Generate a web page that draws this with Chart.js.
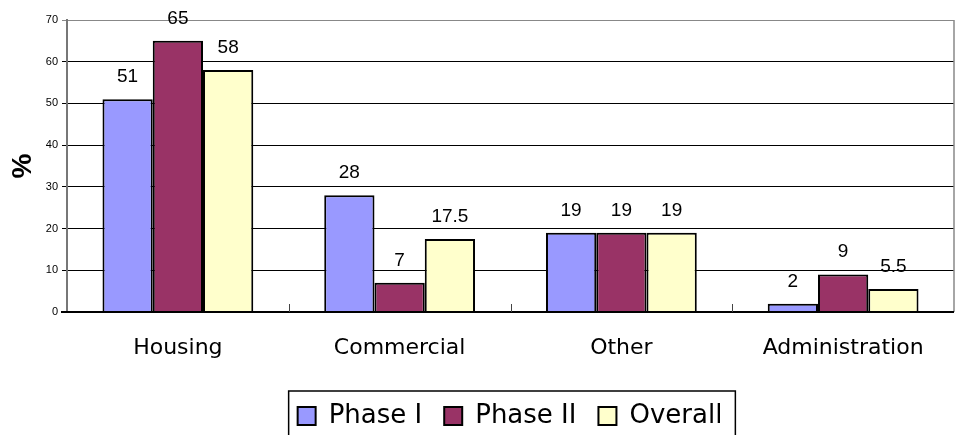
<!DOCTYPE html>
<html>
<head>
<meta charset="utf-8">
<script src="https://cdn.jsdelivr.net/npm/chart.js@4.4.1/dist/chart.umd.min.js"></script>
<style>
  body { margin: 0; background: #fff; }
  #wrap { width: 959px; height: 435px; }
</style>
</head>
<body>
<div id="wrap"><canvas id="barchart" width="959" height="435"></canvas></div>
<script>
// Data
const categories = ['Housing', 'Commercial', 'Other', 'Administration'];
const phase1 = [51, 28, 19, 2];
const phase2 = [65, 7, 19, 9];
const overall = [58, 17.5, 19, 5.5];
const seriesNames = ['Phase I', 'Phase II', 'Overall'];
const yMin = 0, yMax = 70, yStep = 10;

// legend sits a bit right of centre in the original
const legendShift = { dx: 33, dy: 4 };

// value labels above each bar
const valueLabels = {
    id: 'valueLabels',
    afterDatasetsDraw(chart) {
        const ctx = chart.ctx;
        ctx.save();
        ctx.font = '19px "Liberation Sans", Arial, sans-serif';
        ctx.fillStyle = '#000';
        ctx.textAlign = 'center';
        ctx.textBaseline = 'alphabetic';
        chart.data.datasets.forEach((ds, i) => {
            chart.getDatasetMeta(i).data.forEach((bar, j) => {
                ctx.fillText(String(ds.data[j]), bar.x, bar.y - 17);
            });
        });
        ctx.restore();
    }
};

// plot frame, inside category ticks, legend border
const frame = {
    id: 'frame',
    beforeDraw(chart) {
        const lg = chart.legend;
        lg.left += legendShift.dx;
        lg.right += legendShift.dx;
        lg.top += legendShift.dy;
        lg.bottom += legendShift.dy;
    },
    beforeDatasetsDraw(chart) {
        const {ctx, chartArea: a} = chart;
        ctx.save();
        ctx.strokeStyle = '#888';
        ctx.lineWidth = 1.5;
        ctx.beginPath();
        ctx.moveTo(a.right, a.top);
        ctx.lineTo(a.right, a.bottom);
        ctx.stroke();
        ctx.restore();
    },
    afterDraw(chart) {
        const {ctx, chartArea: a} = chart;
        const x = chart.scales.x;
        ctx.save();
        // x axis line
        ctx.strokeStyle = '#000';
        ctx.lineWidth = 2;
        ctx.beginPath();
        ctx.moveTo(a.left - 6, a.bottom);
        ctx.lineTo(a.right, a.bottom);
        ctx.stroke();
        // inside ticks between categories
        ctx.lineWidth = 1;
        ctx.strokeStyle = '#444';
        for (let i = 1; i < categories.length; i++) {
            const px = Math.round((x.getPixelForValue(i - 1) + x.getPixelForValue(i)) / 2) + 0.5;
            ctx.beginPath();
            ctx.moveTo(px, a.bottom);
            ctx.lineTo(px, a.bottom - 8);
            ctx.stroke();
        }
        // legend border (hit boxes were placed before the shift)
        const boxes = chart.legend.legendHitBoxes;
        if (boxes && boxes.length) {
            const first = boxes[0], last = boxes[boxes.length - 1];
            const l = first.left - 9 + legendShift.dx;
            const r = last.left + last.width + 13 + legendShift.dx;
            const t = first.top - 12 + legendShift.dy;
            ctx.strokeStyle = '#000';
            ctx.lineWidth = 1.5;
            ctx.strokeRect(l, t, r - l, 60);
        }
        ctx.restore();
    }
};

const ctxBar = document.getElementById('barchart');

new Chart(ctxBar, {
    type: 'bar',
    data: {
        labels: categories,
        datasets: [{
                label: seriesNames[0],
                data: phase1,
                backgroundColor: '#9999FF',
                borderColor: '#000',
                borderWidth: 2
            },
            {
                label: seriesNames[1],
                data: phase2,
                backgroundColor: '#993366',
                borderColor: '#000',
                borderWidth: 2
            },
            {
                label: seriesNames[2],
                data: overall,
                backgroundColor: '#FFFFCC',
                borderColor: '#000',
                borderWidth: 2
            }
        ]
    },
    options: {
        responsive: false,
        animation: false,
        datasets: {
            bar: { categoryPercentage: 0.68, barPercentage: 1.0 }
        },
        layout: { padding: { top: 20, right: 5, left: 0, bottom: 0 } },
        scales: {
            x: {
                grid: { display: false, drawTicks: false },
                border: { display: false },
                ticks: {
                    color: '#000',
                    padding: 23,
                    font: { family: '"DejaVu Sans", Verdana, sans-serif', size: 22 }
                },
                afterFit(s) { s.height = 65; }
            },
            y: {
                min: yMin,
                max: yMax,
                ticks: {
                    stepSize: yStep,
                    color: '#000',
                    padding: 4,
                    font: { family: '"Liberation Sans", Arial, sans-serif', size: 11 }
                },
                grid: {
                    color: c => (c.tick && c.tick.value === yMax) ? '#888' : '#000',
                    lineWidth: 1,
                    tickLength: 5
                },
                border: { color: '#777', width: 2 },
                title: {
                    display: true,
                    text: '%',
                    color: '#000',
                    padding: { top: 6, bottom: 8 },
                    font: { family: '"Liberation Sans", Arial, sans-serif', size: 28, weight: 'bold' }
                },
                afterFit(s) { s.width = 67; }
            }
        },
        plugins: {
            legend: {
                position: 'bottom',
                labels: {
                    color: '#000',
                    boxWidth: 18,
                    boxHeight: 18,
                    padding: 22,
                    font: { family: '"DejaVu Sans", Verdana, sans-serif', size: 26 }
                }
            },
            tooltip: { enabled: false }
        }
    },
    plugins: [valueLabels, frame]
});
</script>
</body>
</html>
